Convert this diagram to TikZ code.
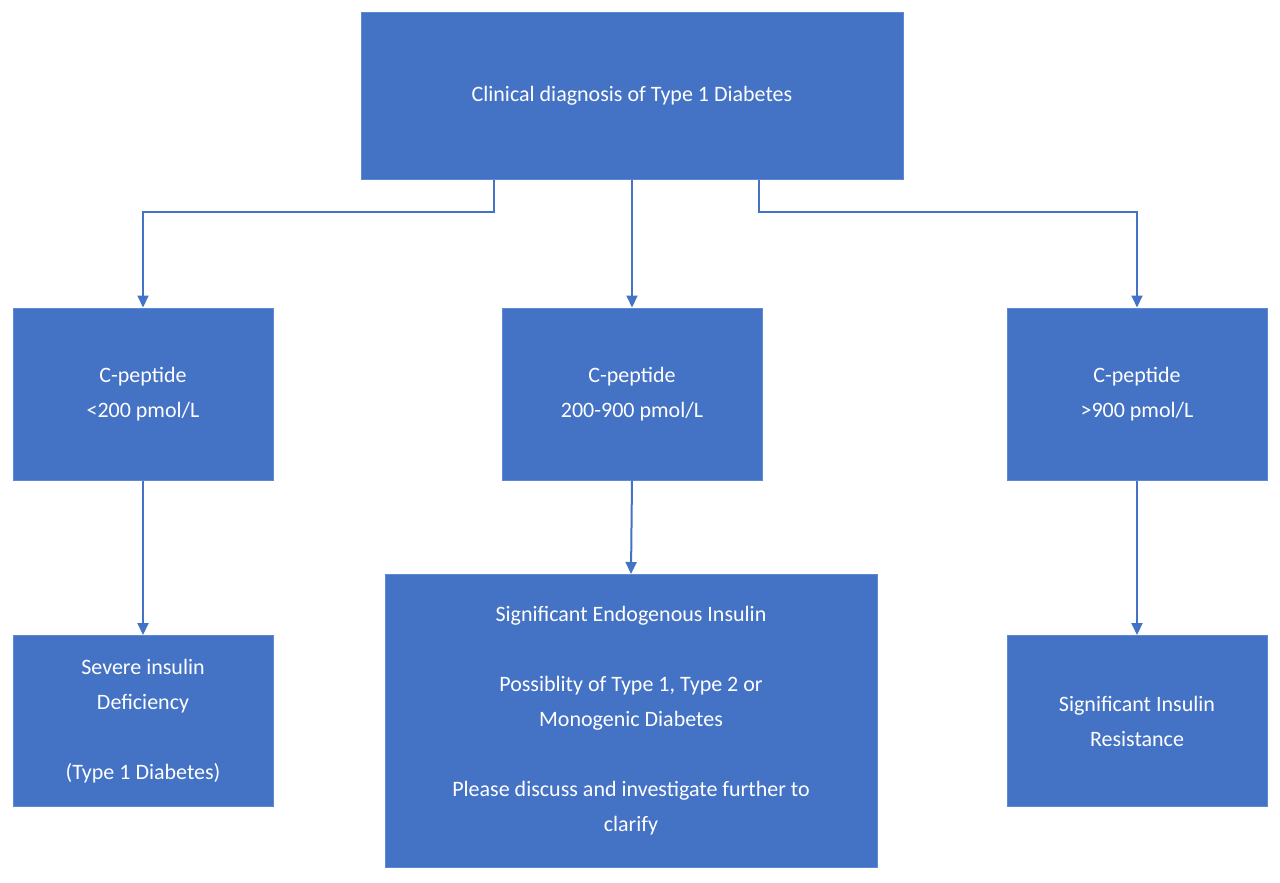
\documentclass[tikz,border=0pt]{standalone}
\usepackage{fontspec}
\setmainfont{Carlito}
\usetikzlibrary{arrows.meta}
\definecolor{boxblue}{HTML}{4472C4}
\definecolor{edgeblue}{HTML}{5B8BD6}
\begin{document}
\begin{tikzpicture}[x=1pt,y=-1pt,
  box/.style={draw=edgeblue,line width=1pt,fill=boxblue,text=white,align=center,
    font=\fontsize{22}{35}\selectfont,inner sep=0pt},
  arr/.style={draw=boxblue,line width=2pt,-{Triangle[length=12pt,width=11pt]}}]
\useasboundingbox (0,0) rectangle (1280,883);
\node[box,minimum width=542,minimum height=166] (top) at (632,96) {Clinical diagnosis of Type 1 Diabetes};
\node[box,minimum width=260,minimum height=172] (l) at (143,394) {C-peptide\\<200 pmol/L};
\node[box,minimum width=260,minimum height=172] (m) at (632,394) {C-peptide\\200-900 pmol/L};
\node[box,minimum width=260,minimum height=172] (r) at (1137,394) {C-peptide\\>900 pmol/L};
\node[box,minimum width=260,minimum height=171] (bl) at (143,721) {Severe insulin\\Deficiency\\[35pt](Type 1 Diabetes)};
\node[box,minimum width=492,minimum height=293] (bm) at (631,721) {Significant Endogenous Insulin\\[35pt]Possiblity of Type 1, Type 2 or\\Monogenic Diabetes\\[35pt]Please discuss and investigate further to\\clarify};
\node[box,minimum width=260,minimum height=171] (br) at (1137,721) {Significant Insulin\\Resistance};
\draw[arr] ([xshift=-138pt]top.south) |- (143,212) -- (l.north);
\draw[arr] ([xshift=127pt]top.south) |- (1137,212) -- (r.north);
\draw[arr] (top.south) -- (m.north);
\draw[arr] (l.south) -- (bl.north);
\draw[arr] (m.south) -- (bm.north);
\draw[arr] (r.south) -- (br.north);
\end{tikzpicture}
\end{document}
